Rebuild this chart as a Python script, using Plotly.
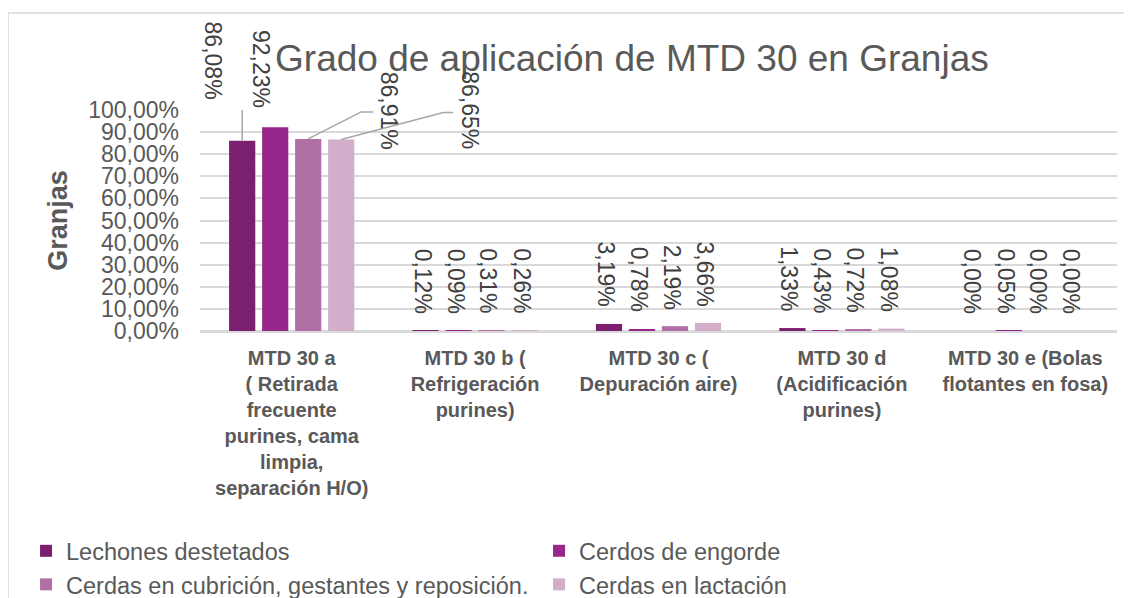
import plotly.graph_objects as go

# ---------------- data ----------------
categories = [
    "MTD 30 a<br>( Retirada<br>frecuente<br>purines, cama<br>limpia,<br>separación H/O)",
    "MTD 30 b (<br>Refrigeración<br>purines)",
    "MTD 30 c (<br>Depuración aire)",
    "MTD 30 d<br>(Acidificación<br>purines)",
    "MTD 30 e (Bolas<br>flotantes en fosa)",
]
series_names = [
    "Lechones destetados",
    "Cerdos de engorde",
    "Cerdas en cubrición, gestantes y reposición.",
    "Cerdas en lactación",
]
lechones = [0.8608, 0.0012, 0.0319, 0.0133, 0.0000]
cerdos_engorde = [0.9223, 0.0009, 0.0078, 0.0043, 0.0005]
cerdas_cubricion = [0.8691, 0.0031, 0.0219, 0.0072, 0.0000]
cerdas_lactacion = [0.8665, 0.0026, 0.0366, 0.0108, 0.0000]
series_values = [lechones, cerdos_engorde, cerdas_cubricion, cerdas_lactacion]

title_text = "Grado de aplicación de MTD 30 en Granjas"
y_title = "Granjas"

# ---------------- style ----------------
colors = ["#7B1F6F", "#97278A", "#B070A5", "#D3AECB"]
FONT = "Liberation Sans, Arial, sans-serif"
TXT = "#595959"
LBL = "#404040"
GRID = "#D9D9D9"

BARGAP = 0.28
GROUPGAP = 0.206
slot = (1 - BARGAP) / len(series_values)

# default label offset (px) relative to bar top, and manual ones for first group
default_shift = (-3, 15)
manual_shift = {(0, 0): (-29, 39), (1, 0): (-14, 17), (2, 0): (81, -13), (3, 0): (129, -12)}
# leader lines (pixel paths relative to bar top-centre)
leaders = {(0, 0): "M0,0 V69 H-12", (2, 0): "M0,0 L53,27 H65", (3, 0): "M0,0 L102,27 H112"}

fig = go.Figure()
for i, (name, vals) in enumerate(zip(series_names, series_values)):
    fig.add_trace(go.Bar(
        x=categories, y=vals, name=name,
        marker=dict(color=colors[i], line=dict(width=0)),
        hoverinfo="skip",
    ))

def fmt(v):
    return f"{v*100:.2f}".replace(".", ",") + "%"

annotations = []
shapes = []
for i, vals in enumerate(series_values):
    for j, v in enumerate(vals):
        xc = j + (i - (len(series_values) - 1) / 2) * slot
        xs, ys = manual_shift.get((i, j), default_shift)
        annotations.append(dict(
            x=xc, y=v, xref="x", yref="y", text=fmt(v), showarrow=False,
            textangle=90, xanchor="center", yanchor="bottom",
            xshift=xs, yshift=ys, font=dict(family=FONT, size=23, color=LBL),
        ))
        if (i, j) in leaders:
            shapes.append(dict(
                type="path", xref="x", yref="y", xsizemode="pixel", ysizemode="pixel",
                xanchor=xc, yanchor=v, path=leaders[(i, j)],
                line=dict(color="#A6A6A6", width=1.5),
            ))

# chart-area border (top and left edges visible)
shapes.append(dict(type="line", xref="paper", yref="paper", x0=-0.2094, x1=1.03,
                   y0=1.4389, y1=1.4389, line=dict(color=GRID, width=1.5)))
shapes.append(dict(type="line", xref="paper", yref="paper", x0=-0.2094, x1=-0.2094,
                   y0=1.4389, y1=-1.25, line=dict(color=GRID, width=1.5)))

fig.update_layout(
    width=1124, height=590,
    margin=dict(l=192, r=15, t=102, b=267, autoexpand=False),
    paper_bgcolor="white", plot_bgcolor="white",
    separators=",.",
    barmode="group", bargap=BARGAP, bargroupgap=GROUPGAP,
    font=dict(family=FONT, color=TXT),
    title=dict(text=title_text, x=0.471, xref="paper", xanchor="center",
               y=0.915, yref="container", yanchor="middle",
               font=dict(family=FONT, size=37, color=TXT)),
    xaxis=dict(
        type="category", range=[-0.5, 4.5], showgrid=False,
        showline=True, linecolor=GRID, linewidth=1.5,
        ticks="", ticklabelstandoff=8, automargin=False,
        tickfont=dict(family=FONT, size=20, color=TXT, weight="bold"),
    ),
    yaxis=dict(
        range=[0, 1], dtick=0.1, tickformat=".2%",
        showgrid=True, gridcolor=GRID, gridwidth=1.5,
        zeroline=True, zerolinecolor=GRID, zerolinewidth=1.5,
        ticks="", ticklabelstandoff=20, automargin=False,
        tickfont=dict(family=FONT, size=23, color=TXT),
        title=dict(text=y_title, standoff=12,
                   font=dict(family=FONT, size=27, color=TXT, weight="bold")),
    ),
    legend=dict(
        orientation="h", x=-0.1897, xanchor="left", y=-0.896, yanchor="top",
        entrywidth=468, entrywidthmode="pixels", traceorder="normal",
        font=dict(family=FONT, size=23.5, color=TXT),
        itemclick=False, itemdoubleclick=False, tracegroupgap=0,
    ),
    annotations=annotations,
    shapes=shapes,
    showlegend=True,
)

fig.write_html("out.html")
